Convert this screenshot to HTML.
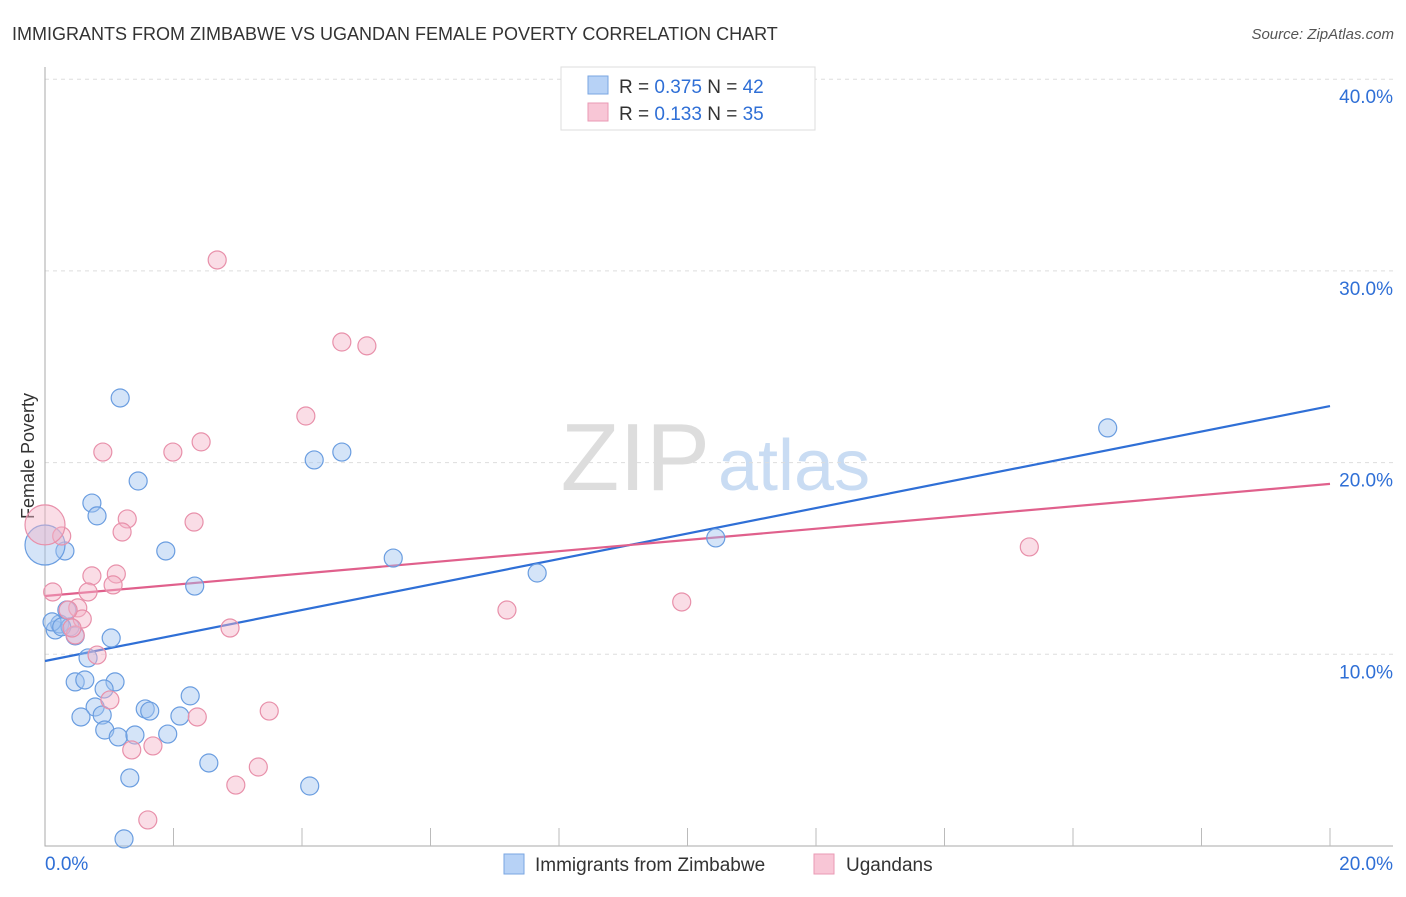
<!DOCTYPE html>
<html><head><meta charset="utf-8"><style>
body{margin:0;background:#fff;font-family:"Liberation Sans",sans-serif;}
svg text{font-family:"Liberation Sans",sans-serif;}
</style></head><body>
<svg id="chart" width="1406" height="892">
<text x="12" y="40" font-size="18" fill="#333">IMMIGRANTS FROM ZIMBABWE VS UGANDAN FEMALE POVERTY CORRELATION CHART</text>
<text x="1394" y="39" font-size="15" fill="#555" font-style="italic" text-anchor="end">Source: ZipAtlas.com</text>
<text transform="translate(34,456) rotate(-90)" font-size="18" fill="#333" text-anchor="middle">Female Poverty</text>
<text x="710" y="490" font-size="96" fill="#ddd" text-anchor="end" font-family="Liberation Serif">ZIP</text>
<text x="718" y="490" font-size="72" fill="#c9dcf3">atlas</text>
<g id="grid"></g><g id="axes"></g><g id="lines"></g><g id="pts"></g>
<g>
<rect x="561" y="67" width="254" height="63" fill="#fff" stroke="#ddd"/>
<rect x="588" y="76" width="20" height="18" fill="#b7d2f6" stroke="#7aa6e2"/>
<text x="619" y="93" font-size="19" fill="#333">R = <tspan fill="#2f6fd6">0.375</tspan>   N = <tspan fill="#2f6fd6">42</tspan></text>
<rect x="588" y="103" width="20" height="18" fill="#f8c6d6" stroke="#ea9ab4"/>
<text x="619" y="120" font-size="19" fill="#333">R =  <tspan fill="#2f6fd6">0.133</tspan>   N = <tspan fill="#2f6fd6">35</tspan></text>
</g>
<g>
<rect x="504" y="854" width="20" height="20" fill="#b7d2f6" stroke="#7aa6e2"/>
<text x="535" y="871" font-size="19" fill="#333">Immigrants from Zimbabwe</text>
<rect x="814" y="854" width="20" height="20" fill="#f8c6d6" stroke="#ea9ab4"/>
<text x="846" y="871" font-size="19" fill="#333">Ugandans</text>
</g>
</svg>
<script>
const yTicks=[10,20,30,40];
const xTickLabels=["0.0%","20.0%"];
const blueX=[1.17,1.45,0.73,0.81,0.31,1.88,0.0,2.33,1.03,0.16,0.23,0.39,0.47,0.67,0.47,0.62,1.09,0.92,0.78,0.89,0.56,1.56,1.63,2.26,2.10,0.93,1.14,1.40,1.91,2.55,1.32,1.23,4.12,4.19,4.62,5.42,7.66,10.44,16.54,0.34,0.11,0.26];
const blueY=[23.37,19.04,17.89,17.22,15.39,15.39,15.7,13.56,10.85,11.27,11.58,11.43,10.96,9.81,8.56,8.66,8.56,8.19,7.25,6.83,6.73,7.15,7.04,7.83,6.78,6.05,5.69,5.79,5.84,4.33,3.55,0.37,3.13,20.14,20.55,15.02,14.24,16.07,21.81,12.31,11.69,11.43];
const pinkX=[2.68,4.62,5.01,4.06,2.43,1.99,0.90,1.28,2.32,1.20,0.26,0,0.73,1.11,1.06,0.12,0.67,0.51,0.58,0.36,0.81,1.01,2.88,2.37,3.49,1.68,1.35,3.32,2.97,1.60,7.19,9.91,15.32,0.47,0.42];
const pinkY=[30.57,26.29,26.09,22.43,21.08,20.55,20.55,17.06,16.90,16.38,16.17,16.75,14.09,14.19,13.62,13.25,13.25,12.42,11.84,12.31,9.96,7.62,11.37,6.73,7.04,5.22,5.01,4.12,3.18,1.36,12.31,12.73,15.60,11.01,11.37];
const blueTrend=[9.65,22.95];
const pinkTrend=[13.04,18.89];
const NS="http://www.w3.org/2000/svg";
const X=v=>45+v/20*1285, Y=v=>846-v*19.17;
function mk(t,a,p){const e=document.createElementNS(NS,t);for(const k in a)e.setAttribute(k,a[k]);document.getElementById(p).appendChild(e);return e;}
yTicks.forEach(t=>{
 const g=mk('line',{x1:45,x2:1393,y1:Y(t),y2:Y(t),stroke:'#ddd','stroke-dasharray':'4,4'},'grid');
 
 
 const l=mk('text',{x:1393,y:Y(t)+24,'font-size':19,fill:'#2f6fd6','text-anchor':'end'},'grid');
 l.textContent=t.toFixed(1)+'%';
 
 
});
const ax=mk('path',{d:'M45,67V846H1393',stroke:'#aaa',fill:'none'},'axes');


for(let i=1;i<=10;i++){
 const t=mk('line',{x1:X(i*2),x2:X(i*2),y1:828,y2:846,stroke:'#bbb'},'axes');
 
 
}
xTickLabels.forEach((s,i)=>{
 const l=mk('text',{x:i?1393:45,y:870,'font-size':19,fill:'#2f6fd6','text-anchor':i?'end':'start'},'axes');
 l.textContent=s;
 
 
});
const bl=mk('line',{x1:X(0),y1:Y(blueTrend[0]),x2:X(20),y2:Y(blueTrend[1]),stroke:'#2f6fd6','stroke-width':2.2},'lines');


const pl=mk('line',{x1:X(0),y1:Y(pinkTrend[0]),x2:X(20),y2:Y(pinkTrend[1]),stroke:'#e0608c','stroke-width':2.2},'lines');


blueX.forEach((x,i)=>{
 const c=mk('circle',{cx:X(x),cy:Y(blueY[i]),r:x===0?20:9,fill:'rgba(160,196,240,0.45)',stroke:'#6a9de0','stroke-width':1.2},'pts');
 
 
});
pinkX.forEach((x,i)=>{
 const c=mk('circle',{cx:X(x),cy:Y(pinkY[i]),r:x===0?20:9,fill:'rgba(245,180,200,0.45)',stroke:'#e890aa','stroke-width':1.2},'pts');
 
 
});
</script>
</body></html>
